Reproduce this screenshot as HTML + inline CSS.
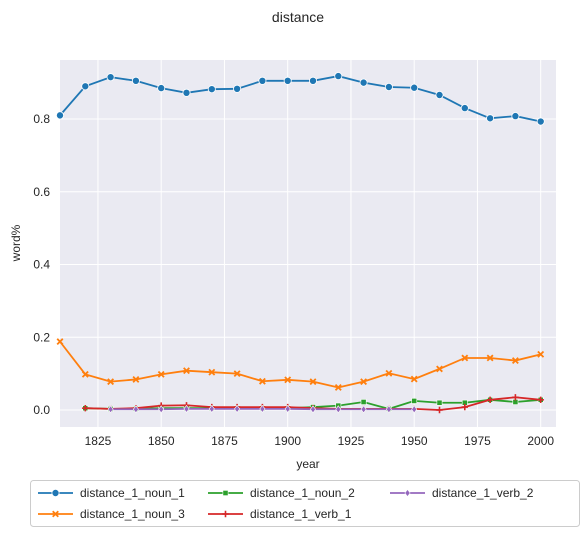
<!DOCTYPE html>
<html><head><meta charset="utf-8"><style>
body{margin:0;background:#fff;font-family:"Liberation Sans",Arial,sans-serif}
svg text{font-family:"Liberation Sans",Arial,sans-serif;fill:#262626}
</style></head><body>
<svg id="chart" width="588" height="537">
<text x="298" y="22" font-size="14" text-anchor="middle">distance</text>
<rect x="60" y="60" width="496" height="367" fill="#eaeaf2"/>
<g id="grid"></g><g id="series"></g><g id="ticks"></g>
<text x="308" y="468" font-size="12" text-anchor="middle">year</text>
<text x="20" y="243" font-size="12" text-anchor="middle" transform="rotate(-90 20 243)">word%</text>
<rect x="30.5" y="480.5" width="549" height="46" fill="#fff" stroke="#ccc" rx="3"/>
<g id="legend"></g>
</svg>
<script>
const years=[1810,1820,1830,1840,1850,1860,1870,1880,1890,1900,1910,1920,1930,1940,1950,1960,1970,1980,1990,2000];
const noun1=[.81,.89,.915,.905,.885,.872,.882,.883,.905,.905,.905,.918,.9,.888,.886,.866,.83,.802,.808,.793];
const noun3=[.188,.098,.078,.084,.098,.108,.104,.1,.079,.083,.078,.062,.078,.101,.085,.113,.143,.143,.136,.153];
const noun2=[null,.005,.003,.003,.005,.005,.005,.005,.005,.005,.008,.012,.022,.003,.025,.02,.02,.028,.022,.028];
const verb1=[null,.005,.003,.005,.012,.013,.008,.008,.008,.008,.005,.003,.003,.003,.003,.0,.008,.028,.035,.028];
const verb2=[null,null,.002,.002,.002,.003,.003,.003,.003,.003,.002,.002,.002,.002,.002,null,null,null,null,null];
const xTicks=[1825,1850,1875,1900,1925,1950,1975,2000];
const yTicks=[0,0.2,0.4,0.6,0.8];
const X=v=>60+(v-1810)*2.53, Y=v=>410-v*363.75;
const NS="http://www.w3.org/2000/svg";
function mk(t,a,p){const e=document.createElementNS(NS,t);for(const k in a)e.setAttribute(k,a[k]);p.appendChild(e);return e;}
const grid=document.getElementById('grid'),ticks=document.getElementById('ticks'),ser=document.getElementById('series'),leg=document.getElementById('legend');
xTicks.forEach(t=>{const l=mk('line',{x1:X(t),x2:X(t),y1:60,y2:427,stroke:'#fff','stroke-width':1},grid);


const tx=mk('text',{x:X(t),y:445,'font-size':12,'text-anchor':'middle'},ticks);tx.textContent=t;

});
yTicks.forEach(t=>{const l=mk('line',{x1:60,x2:556,y1:Y(t),y2:Y(t),stroke:'#fff','stroke-width':1},grid);


const tx=mk('text',{x:50,y:Y(t)+4,'font-size':12,'text-anchor':'end'},ticks);tx.textContent=t.toFixed(1);

});
function marker(g,m,x,y,c){
 if(m==='o')return mk('circle',{cx:x,cy:y,r:3.6,fill:c,stroke:'#fff','stroke-width':.8},g);
 if(m==='x')return mk('path',{d:`M${x-2.8} ${y-2.8}L${x+2.8} ${y+2.8}M${x-2.8} ${y+2.8}L${x+2.8} ${y-2.8}`,stroke:c,'stroke-width':1.8},g);
 if(m==='s')return mk('rect',{x:x-2.6,y:y-2.6,width:5.2,height:5.2,fill:c,stroke:'#fff','stroke-width':.6},g);
 if(m==='+')return mk('path',{d:`M${x-3.2} ${y}L${x+3.2} ${y}M${x} ${y-3.2}L${x} ${y+3.2}`,stroke:c,'stroke-width':1.6},g);
 return mk('path',{d:`M${x} ${y-3.5}L${x+2.6} ${y}L${x} ${y+3.5}L${x-2.6} ${y}Z`,fill:c,stroke:'#fff','stroke-width':.6},g);
}
const S=[['distance_1_noun_1',noun1,'#1f77b4','o'],['distance_1_noun_3',noun3,'#ff7f0e','x'],['distance_1_noun_2',noun2,'#2ca02c','s'],['distance_1_verb_1',verb1,'#d62728','+'],['distance_1_verb_2',verb2,'#9467bd','d']];
S.forEach(([n,vals,c,m])=>{const g=mk('g',{},ser);


const pts=[];vals.forEach((v,i)=>{if(v!==null)pts.push([X(years[i]),Y(v)]);});
mk('polyline',{points:pts.map(p=>p.join(',')).join(' '),fill:'none',stroke:c,'stroke-width':1.8},g);
pts.forEach(p=>{const e=marker(g,m,p[0],p[1],c);

});});
const pos=[[38,493],[38,514],[208,493],[208,514],[390,493]];
S.forEach(([n,,c,m],i)=>{const [x,y]=pos[i];const g=mk('g',{},leg);


mk('line',{x1:x,x2:x+35,y1:y,y2:y,stroke:c,'stroke-width':1.8},g);marker(g,m,x+17.5,y,c);
const t=mk('text',{x:x+42,y:y+4,'font-size':12},g);t.textContent=n;});
</script>
</body></html>
